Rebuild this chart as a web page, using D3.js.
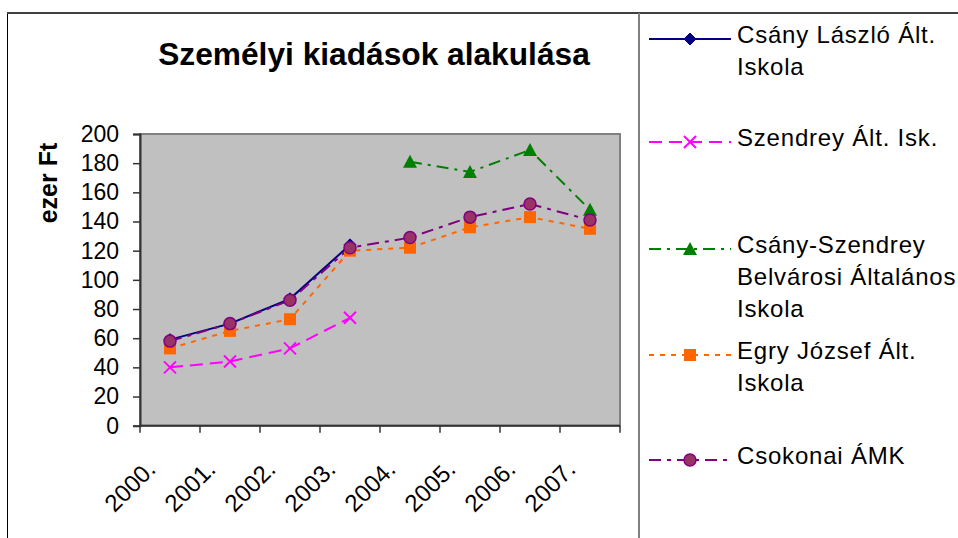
<!DOCTYPE html>
<html>
<head>
<meta charset="utf-8">
<script src="https://cdn.jsdelivr.net/npm/d3@7.9.0/dist/d3.min.js"></script>
<style>
  html, body { margin: 0; padding: 0; background: #fff; }
  svg { display: block; font-family: Arial, "Liberation Sans", sans-serif; }
</style>
</head>
<body>
<svg id="chart" width="958" height="538"></svg>
<script>
// years on the category axis
const years = ['2000.', '2001.', '2002.', '2003.', '2004.', '2005.', '2006.', '2007.'];
const yTicks = [0, 20, 40, 60, 80, 100, 120, 140, 160, 180, 200];

// ezer Ft, null where the school has no value
const csanyLaszlo = [59, 70, 87, 124, null, null, null, null];
const szendrey = [40, 44, 53, 74, null, null, null, null];
const csanySzendrey = [null, null, null, null, 181, 174, 189, 148];
const egry = [53, 65, 73, 120, 122, 136, 143, 135];
const csokonai = [58, 70, 86, 122, 129, 143, 152, 141];

const seriesNames = [
  ['Csány László Ált.', 'Iskola'],
  ['Szendrey Ált. Isk.'],
  ['Csány-Szendrey', 'Belvárosi Általános', 'Iskola'],
  ['Egry József Ált.', 'Iskola'],
  ['Csokonai ÁMK']
];

const series = [
  { values: csanyLaszlo, color: '#000080', dash: null, marker: 'diamond' },
  { values: szendrey, color: '#ff00ff', dash: '13,7', marker: 'x' },
  { values: csanySzendrey, color: '#008000', dash: '12,6,3,6', marker: 'triangle' },
  { values: egry, color: '#ff6600', dash: '5,6', marker: 'square' },
  { values: csokonai, color: '#800080', dash: '12,6,4,6', marker: 'circle' }
];

const svg = d3.select('#chart');

// plot box
const plotLeft = 140, plotRight = 620, plotTop = 134, plotBottom = 425.7;

const x = d3.scaleBand().domain(years).range([plotLeft, plotRight]);
const y = d3.scaleLinear().domain([0, 200]).range([plotBottom, plotTop]);

// outer frame
svg.append('line').attr('x1', 7.5).attr('y1', 13).attr('x2', 7.5).attr('y2', 538)
  .style('stroke', '#000').style('stroke-width', 1);
svg.append('line').attr('x1', 7).attr('y1', 13).attr('x2', 958).attr('y2', 13)
  .style('stroke', '#404040').style('stroke-width', 2);
svg.append('line').attr('x1', 639).attr('y1', 13).attr('x2', 639).attr('y2', 538)
  .style('stroke', '#808080').style('stroke-width', 2);

// title
svg.append('text')
  .attr('x', 374).attr('y', 65)
  .attr('text-anchor', 'middle')
  .style('font-size', '31.7px').style('font-weight', 'bold')
  .text('Személyi kiadások alakulása');

// y label
svg.append('text')
  .attr('transform', 'translate(57,183) rotate(-90)')
  .attr('text-anchor', 'middle')
  .style('font-size', '25px').style('font-weight', 'bold')
  .text('ezer Ft');

// plot background
svg.append('rect')
  .attr('x', plotLeft).attr('y', plotTop)
  .attr('width', plotRight - plotLeft).attr('height', plotBottom - plotTop)
  .style('fill', '#c0c0c0')
  .style('stroke', '#808080').style('stroke-width', 2);

// y axis
const yAxis = svg.append('g')
  .attr('transform', `translate(${plotLeft},0)`)
  .call(d3.axisLeft(y).tickValues(yTicks).tickSize(7).tickPadding(14));
yAxis.select('.domain').style('stroke', '#333').style('stroke-width', 2);
yAxis.selectAll('.tick line').style('stroke', '#333').style('stroke-width', 1.5);
yAxis.selectAll('.tick text')
  .style('font-size', '23px').style('font-family', 'Arial, "Liberation Sans", sans-serif')
  .style('fill', '#000');

// x axis: ticks at category boundaries, labels at centres
const xAxis = svg.append('g').attr('transform', `translate(0,${plotBottom})`);
xAxis.append('line')
  .attr('x1', plotLeft).attr('x2', plotRight)
  .style('stroke', '#333').style('stroke-width', 2);
xAxis.selectAll('.xtick')
  .data(d3.range(years.length + 1))
  .enter().append('line')
  .attr('x1', i => plotLeft + i * x.step()).attr('x2', i => plotLeft + i * x.step())
  .attr('y1', 0).attr('y2', 7)
  .style('stroke', '#333').style('stroke-width', 1.5);
xAxis.selectAll('.xlabel')
  .data(years)
  .enter().append('text')
  .attr('text-anchor', 'end')
  .attr('transform', d => `translate(${x(d) + x.bandwidth() / 2 - 13},45) rotate(-45)`)
  .style('font-size', '24px')
  .text(d => d);

// lines and markers
const line = d3.line()
  .defined(d => d.v != null)
  .x(d => x(d.year) + x.bandwidth() / 2)
  .y(d => y(d.v));

function drawMarker(g, type, color) {
  if (type === 'diamond') {
    g.append('path').attr('d', 'M0,-6L6,0L0,6L-6,0Z').style('fill', color).style('stroke', color);
  } else if (type === 'x') {
    g.append('path').attr('d', 'M-6,-6L6,6M-6,6L6,-6').style('stroke', color).style('stroke-width', 2).style('fill', 'none');
  } else if (type === 'triangle') {
    g.append('path').attr('d', 'M0,-7L7,6L-7,6Z').style('fill', color);
  } else if (type === 'square') {
    g.append('rect').attr('x', -6).attr('y', -6).attr('width', 12).attr('height', 12).style('fill', color);
  } else if (type === 'circle') {
    g.append('circle').attr('r', 6).style('fill', '#993366').style('stroke', color).style('stroke-width', 1.5);
  }
}

series.forEach(s => {
  const pts = s.values.map((v, i) => ({ year: years[i], v: v }));
  svg.append('path')
    .datum(pts)
    .attr('d', line)
    .style('fill', 'none')
    .style('stroke', s.color)
    .style('stroke-width', 2)
    .style('stroke-dasharray', s.dash);
});

series.forEach(s => {
  s.values.forEach((v, i) => {
    if (v == null) return;
    const g = svg.append('g')
      .attr('transform', `translate(${x(years[i]) + x.bandwidth() / 2},${y(v)})`);
    drawMarker(g, s.marker, s.color);
  });
});

// legend
const legendY = [39, 142, 249, 355, 460];
series.forEach((s, i) => {
  const yc = legendY[i];
  svg.append('line')
    .attr('x1', 649).attr('x2', 731).attr('y1', yc).attr('y2', yc)
    .style('stroke', s.color).style('stroke-width', 2)
    .style('stroke-dasharray', s.dash);
  const g = svg.append('g').attr('transform', `translate(690,${yc})`);
  drawMarker(g, s.marker, s.color);
  const t = svg.append('text')
    .attr('x', 737).attr('y', yc + 4)
    .style('font-size', '24px').style('letter-spacing', '0.8px');
  seriesNames[i].forEach((ln, k) => {
    t.append('tspan').attr('x', 737).attr('y', yc + 4 + k * 32).text(ln);
  });
});
</script>
</body>
</html>
